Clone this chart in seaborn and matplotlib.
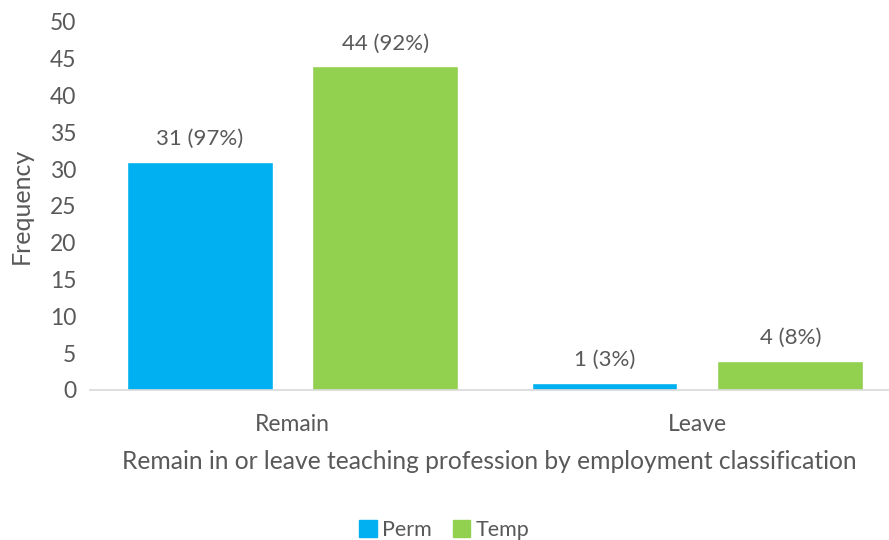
import matplotlib
matplotlib.use("Agg")
import matplotlib.pyplot as plt
import seaborn as sns
import pandas as pd

categories = ["Remain", "Leave"]
groups = ["Perm", "Temp"]
perm_counts = [31, 1]
temp_counts = [44, 4]
perm_pct = [97, 3]
temp_pct = [92, 8]

df = pd.DataFrame({
    "Decision": categories * 2,
    "Classification": ["Perm"] * len(categories) + ["Temp"] * len(categories),
    "Frequency": perm_counts + temp_counts,
    "Percent": perm_pct + temp_pct,
})

sns.set_theme(style="white")
plt.rcParams["font.family"] = ["Lato", "DejaVu Sans"]
text_color = "#595959"

fig = plt.figure(figsize=(8.89, 5.4), dpi=100)
ax = fig.add_axes([90 / 889, 150 / 540, 1 - 90 / 889, (390 - 22) / 540])

palette = {"Perm": "#00B0F0", "Temp": "#92D050"}
sns.barplot(data=df, x="Decision", y="Frequency", hue="Classification",
            order=categories, hue_order=groups, palette=palette,
            width=0.918, gap=0.215, saturation=1, ax=ax, legend=False)

for container, grp in zip(ax.containers, groups):
    sub = df[df["Classification"] == grp].set_index("Decision").loc[categories]
    labels = [f"{int(f)} ({int(p)}%)" for f, p in zip(sub["Frequency"], sub["Percent"])]
    ax.bar_label(container, labels=labels, padding=9, fontsize=16, color=text_color)

ax.set_ylim(0, 50)
ax.set_yticks(range(0, 51, 5))
ax.set_xlim(-0.5, 1.473)
ax.tick_params(axis="both", labelsize=16.5, colors=text_color, length=0)
ax.tick_params(axis="y", pad=10)
ax.tick_params(axis="x", pad=17)
ax.set_ylabel("Frequency", fontsize=18, color=text_color, labelpad=12)
ax.set_xlabel("Remain in or leave teaching profession by employment classification",
              fontsize=17.7, color=text_color, labelpad=11)

for s in ["top", "right", "left"]:
    ax.spines[s].set_visible(False)
ax.spines["bottom"].set_color("#D9D9D9")
ax.spines["bottom"].set_linewidth(1.2)

handles = [plt.Rectangle((0, 0), 1, 1, color=palette[g]) for g in groups]
fig.legend(handles, groups, loc="center", bbox_to_anchor=(0.5, 1 - 530 / 540),
           ncol=2, frameon=False, fontsize=15.5, labelcolor=text_color,
           handlelength=0.8, handleheight=0.8, handletextpad=0.25, columnspacing=1.0)

fig.savefig("out.png", dpi=100)
